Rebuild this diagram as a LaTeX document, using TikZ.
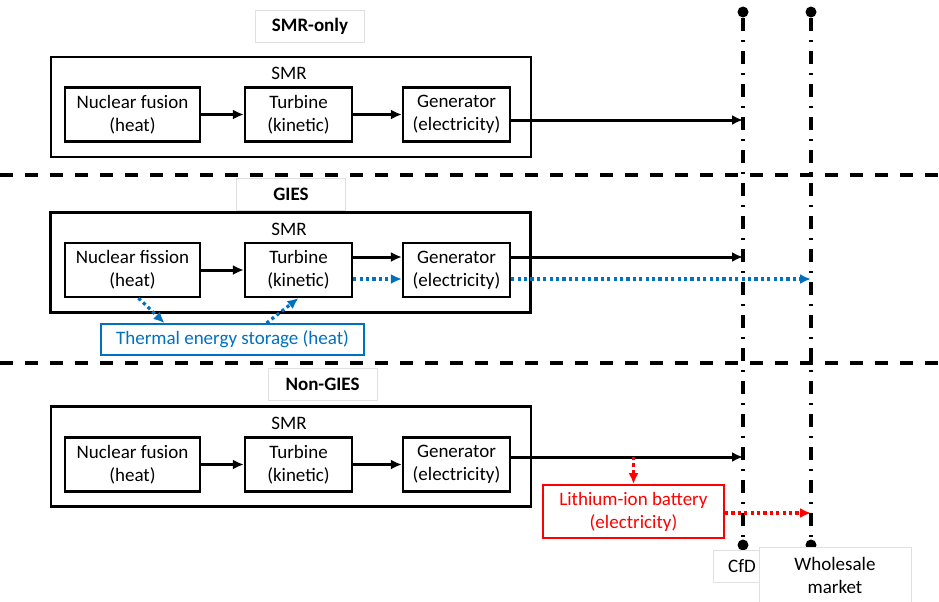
\documentclass[tikz,border=0pt]{standalone}
\usepackage{fontspec}
\setmainfont{Carlito}
\usepackage{xcolor}
\usepackage{tikz}
\usetikzlibrary{arrows.meta}
\definecolor{tesblue}{RGB}{0,112,192}
\definecolor{batred}{RGB}{255,0,0}

\begin{document}
\begin{tikzpicture}[x=0.5pt,y=-0.5pt,
  every node/.style={font=\fontsize{9.5}{11.5}\selectfont, align=center, inner sep=0pt},
  unit/.style={draw, line width=1.1pt, minimum height=27pt},
  smrbox/.style={draw, line width=1.1pt, minimum width=240pt, minimum height=50pt},
  casebox/.style={draw=black!12, line width=0.4pt, fill=white, font=\fontsize{9.5}{11.5}\selectfont\bfseries, minimum width=54.5pt, minimum height=16pt},
  marketbox/.style={draw=black!12, line width=0.4pt, fill=white},
  flow/.style={line width=1.5pt, -{Latex[length=5.5pt,width=5pt]}},
  tesflow/.style={tesblue, line width=1.6pt, dash pattern=on 1.6pt off 1.6pt, -{Latex[length=5.5pt,width=5pt]}},
  batflow/.style={batred, line width=1.6pt, dash pattern=on 1.6pt off 1.6pt, -{Latex[length=5.5pt,width=5pt]}},
  sepline/.style={line width=2pt, dash pattern=on 6.5pt off 6pt},
  mktline/.style={line width=1.6pt, dash pattern=on 6.5pt off 4.5pt on 1pt off 4.5pt},
  mktend/.style={circle, fill, minimum size=5.5pt}
]
\useasboundingbox (0,0) rectangle (939,601);

\node[casebox] (onlyL) at (310,26.5) {SMR-only};
\node[smrbox] (smrA) at (291,107) {};
\node (smrAL) at (289,73) {SMR};
\node[unit, minimum width=67.5pt] (heatA) at (132.5,114.5) {Nuclear fusion\\(heat)};
\node[unit, minimum width=53.5pt] (turbA) at (298.5,114.5) {Turbine\\(kinetic)};
\node[unit, minimum width=53.5pt] (genA) at (456.5,114.5) {Generator\\(electricity)};
\draw[flow] (heatA) -- (turbA);
\draw[flow] (turbA) -- (genA);

\coordinate (sepAw) at (0,175);
\coordinate (sepAe) at (939,175);
\draw[sepline] (sepAw) -- (sepAe);

\node[casebox] (giesL) at (291,194) {GIES};
\node[smrbox] (smrB) at (290.5,262.5) {};
\node (smrBL) at (289,229) {SMR};
\node[unit, minimum width=67.5pt] (heatB) at (132.5,270) {Nuclear fission\\(heat)};
\node[unit, minimum width=53.5pt] (turbB) at (298.5,270) {Turbine\\(kinetic)};
\node[unit, minimum width=53.5pt] (genB) at (456.5,270) {Generator\\(electricity)};
\node[draw=tesblue, text=tesblue, line width=0.9pt, minimum width=131.5pt, minimum height=15.5pt] (tes) at (232.5,339.5) {Thermal energy storage (heat)};
\draw[flow] (heatB) -- (turbB);

\coordinate (sepBw) at (0,363);
\coordinate (sepBe) at (939,363);
\draw[sepline] (sepBw) -- (sepBe);

\node[casebox] (nongiesL) at (322.5,384) {Non-GIES};
\node[smrbox] (smrC) at (291,456.5) {};
\node (smrCL) at (289,423) {SMR};
\node[unit, minimum width=67.5pt] (heatC) at (132.5,464.5) {Nuclear fusion\\(heat)};
\node[unit, minimum width=53.5pt] (turbC) at (298.5,464.5) {Turbine\\(kinetic)};
\node[unit, minimum width=53.5pt] (genC) at (456.5,464.5) {Generator\\(electricity)};
\node[draw=batred, text=batred, line width=0.9pt, minimum width=90.5pt, minimum height=26.5pt] (bat) at (633.5,511.5) {Lithium-ion battery\\(electricity)};
\draw[flow] (heatC) -- (turbC);
\draw[flow] (turbC) -- (genC);

\node[mktend] (cfdtop) at (743,12) {};
\node[mktend] (cfdbot) at (743,545) {};
\node[mktend] (wstop) at (811,12) {};
\node[mktend] (wsbot) at (811,545) {};
\draw[mktline] (cfdtop) -- (cfdbot);
\draw[mktline] (wstop) -- (wsbot);

\coordinate (cfdA) at (743,120);
\coordinate (cfdB) at (743,257);
\coordinate (wsB) at (811,279);
\coordinate (cfdC) at (743,457);
\coordinate (wsC) at (811,513);
\draw[flow] (genA.east |- cfdA) -- (cfdA);
\draw[flow] (turbB.east |- cfdB) -- (genB.west |- cfdB);
\draw[flow] (genB.east |- cfdB) -- (cfdB);
\draw[tesflow] (turbB.east |- wsB) -- (genB.west |- wsB);
\draw[tesflow] (genB.east |- wsB) -- (wsB);
\draw[tesflow] ([xshift=3pt]heatB.south) -- ([xshift=-34pt]tes.north);
\draw[tesflow] ([xshift=17pt]tes.north) -- (turbB.south);
\draw[flow] (genC.east |- cfdC) -- (cfdC);
\draw[batflow] (bat.north |- cfdC) -- (bat.north);
\draw[batflow] (bat.east |- wsC) -- (wsC);

\node[marketbox, minimum width=29pt, minimum height=16pt] (cfdL) at (742,566) {CfD};
\node[marketbox, minimum width=76pt, minimum height=28pt] (wsL) at (835,575) {Wholesale\\market};
\end{tikzpicture}
\end{document}
